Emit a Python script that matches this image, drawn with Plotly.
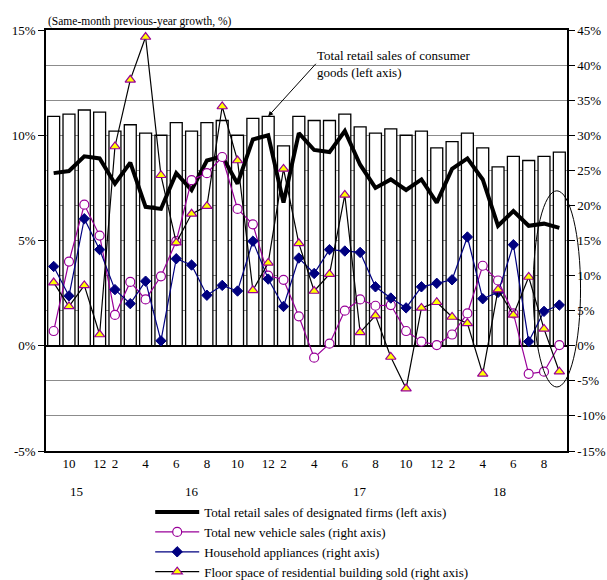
import plotly.graph_objects as go

# Months (Jan and Feb are reported together as Feb)
months = ["2015-09", "2015-10", "2015-11", "2015-12",
          "2016-02", "2016-03", "2016-04", "2016-05", "2016-06", "2016-07",
          "2016-08", "2016-09", "2016-10", "2016-11", "2016-12",
          "2017-02", "2017-03", "2017-04", "2017-05", "2017-06", "2017-07",
          "2017-08", "2017-09", "2017-10", "2017-11", "2017-12",
          "2018-02", "2018-03", "2018-04", "2018-05", "2018-06", "2018-07",
          "2018-08", "2018-09"]

# Left axis (%)
retail_consumer_goods = [10.9, 11.0, 11.2, 11.1, 10.2, 10.5, 10.1, 10.0, 10.6, 10.2,
                         10.6, 10.7, 10.0, 10.8, 10.9, 9.5, 10.9, 10.7, 10.7, 11.0,
                         10.4, 10.1, 10.3, 10.0, 10.2, 9.4, 9.7, 10.1, 9.4, 8.5,
                         9.0, 8.8, 9.0, 9.2]
retail_designated = [8.2, 8.3, 9.0, 8.9, 7.7, 8.7, 6.6, 6.5, 8.2, 7.4,
                     8.8, 9.0, 7.7, 9.8, 10.0, 6.8, 10.1, 9.3, 9.2, 10.2,
                     8.6, 7.5, 7.9, 7.4, 7.9, 6.8, 8.4, 8.9, 7.9, 5.7,
                     6.4, 5.7, 5.8, 5.6]

# Right axis (%)
new_vehicles = [2.1, 12.0, 20.1, 15.7, 4.4, 9.1, 6.6, 9.9, 14.9, 23.6,
                24.6, 26.9, 19.5, 17.3, 10.0, 9.4, 4.2, -1.7, 0.3, 5.0,
                6.6, 5.7, 5.8, 2.1, 0.6, 0.1, 1.6, 4.6, 11.4, 9.3,
                4.6, -4.0, -3.7, 0.1]
appliances = [11.3, 7.1, 18.1, 13.7, 8.0, 6.0, 9.2, 0.7, 12.4, 11.5,
              7.2, 8.6, 7.8, 14.9, 9.5, 5.6, 12.5, 10.3, 13.7, 13.5,
              13.3, 8.4, 6.8, 5.4, 8.4, 8.9, 9.4, 15.5, 6.7, 7.6,
              14.4, 0.6, 4.9, 5.8]
floor_space = [9.0, 5.6, 8.6, 1.6, 28.4, 37.9, 44.0, 24.3, 14.7, 18.8,
               19.9, 34.1, 26.4, 7.9, 11.8, 25.2, 14.6, 7.8, 10.2, 21.5,
               1.9, 4.3, -1.6, -6.1, 5.4, 6.2, 4.1, 3.2, -4.0, 8.0,
               4.4, 9.8, 2.4, -3.7]

# Month tick labels and year labels
tick_months = ["2015-10", "2015-12", "2016-02", "2016-04", "2016-06", "2016-08",
               "2016-10", "2016-12", "2017-02", "2017-04", "2017-06", "2017-08",
               "2017-10", "2017-12", "2018-02", "2018-04", "2018-06", "2018-08"]
tick_text = ["10", "12", "2", "4", "6", "8", "10", "12", "2", "4", "6", "8",
             "10", "12", "2", "4", "6", "8"]
year_labels = ["15", "16", "17", "18"]
year_pos = [1.5, 9.0, 20.0, 29.1]

left_ticks = [-5, 0, 5, 10, 15]
right_ticks = [-15, -10, -5, 0, 5, 10, 15, 20, 25, 30, 35, 40, 45]

SERIF = "Liberation Serif, Times New Roman, serif"
PURPLE = "#990099"
NAVY = "#000080"

fig = go.Figure()

fig.add_trace(go.Bar(
    x=months, y=retail_consumer_goods, yaxis="y",
    marker=dict(color="white", line=dict(color="black", width=1.3)),
    showlegend=False, name="Total retail sales of consumer goods (left axis)"))

fig.add_trace(go.Scatter(
    x=months, y=retail_designated, yaxis="y", mode="lines",
    line=dict(color="black", width=4),
    name="Total retail sales of designated firms (left axis)", legendgroup="a"))

fig.add_trace(go.Scatter(
    x=months, y=new_vehicles, yaxis="y2", mode="lines+markers",
    line=dict(color=PURPLE, width=1.2),
    marker=dict(symbol="circle", size=9, color="white", line=dict(color=PURPLE, width=1.2)),
    name="Total new vehicle sales (right axis)", legendgroup="b"))

fig.add_trace(go.Scatter(
    x=months, y=appliances, yaxis="y2", mode="lines+markers",
    line=dict(color=NAVY, width=1.2),
    marker=dict(symbol="diamond", size=8, color=NAVY, line=dict(color=NAVY, width=1)),
    name="Household appliances (right axis)", legendgroup="c"))

fig.add_trace(go.Scatter(
    x=months, y=floor_space, yaxis="y2", mode="lines+markers",
    line=dict(color="black", width=1.2),
    marker=dict(symbol="triangle-up", size=9, color="#FFFF00", line=dict(color=PURPLE, width=1.2)),
    name="Floor space of residential building sold (right axis)", legendgroup="d"))

annotations = [
    dict(text="(Same-month previous-year growth, %)", xref="paper", yref="paper",
         x=0.0, y=1.021, xanchor="left", yanchor="middle", showarrow=False,
         font=dict(family=SERIF, size=11.5, color="black")),
    dict(text="Total retail sales of consumer<br>goods (left axis)", xref="paper", yref="paper",
         x=0.516, y=0.962, xanchor="left", yanchor="top", align="left", showarrow=False,
         font=dict(family=SERIF, size=13, color="black")),
    dict(text="", x=months[14], y=retail_consumer_goods[14], xref="x", yref="y",
         showarrow=True, arrowhead=2, arrowsize=1, arrowwidth=1, arrowcolor="black",
         ax=49, ay=-54),
]
for lab, pos in zip(year_labels, year_pos):
    annotations.append(dict(text=lab, x=pos, y=-0.097, xref="x", yref="paper",
                            showarrow=False, yanchor="middle",
                            font=dict(family=SERIF, size=13, color="black")))

fig.update_layout(
    width=607, height=580,
    margin=dict(l=46, r=40, t=30, b=129, autoexpand=False),
    paper_bgcolor="white", plot_bgcolor="white",
    font=dict(family=SERIF, size=13, color="black"),
    bargap=0.22,
    xaxis=dict(type="category", categoryorder="array", categoryarray=months,
               range=[-0.5, len(months) - 0.5],
               tickmode="array", tickvals=tick_months, ticktext=tick_text,
               ticks="", showgrid=False, showline=True, mirror=True,
               linecolor="black", linewidth=1.5,
               tickfont=dict(family=SERIF, size=13, color="black")),
    yaxis=dict(range=[-5, 15], tickvals=left_ticks,
               ticktext=[f"{v}%" for v in left_ticks],
               ticks="outside", ticklen=6, tickcolor="black",
               showline=True, linecolor="black", linewidth=1.5,
               showgrid=True, gridcolor="black", gridwidth=1,
               zeroline=True, zerolinecolor="black", zerolinewidth=2,
               tickfont=dict(family=SERIF, size=13, color="black")),
    yaxis2=dict(range=[-15, 45], overlaying="y", side="right", tickvals=right_ticks,
                ticktext=[f"{v}%" for v in right_ticks],
                ticks="outside", ticklen=6, tickcolor="black",
                showline=True, linecolor="black", linewidth=1.5,
                showgrid=True, gridcolor="#8c8c8c", gridwidth=1, zeroline=False,
                tickfont=dict(family=SERIF, size=13, color="black")),
    legend=dict(x=0.2, y=0.143, xanchor="left", yanchor="top", yref="container",
                bgcolor="rgba(0,0,0,0)", tracegroupgap=0, itemwidth=44,
                font=dict(family=SERIF, size=13, color="black")),
    annotations=annotations,
    shapes=[dict(type="circle", xref="paper", yref="paper",
                 x0=0.935, x1=1.026, y0=0.152, y1=0.618,
                 line=dict(color="black", width=1))],
)

fig.write_html("out.html")
